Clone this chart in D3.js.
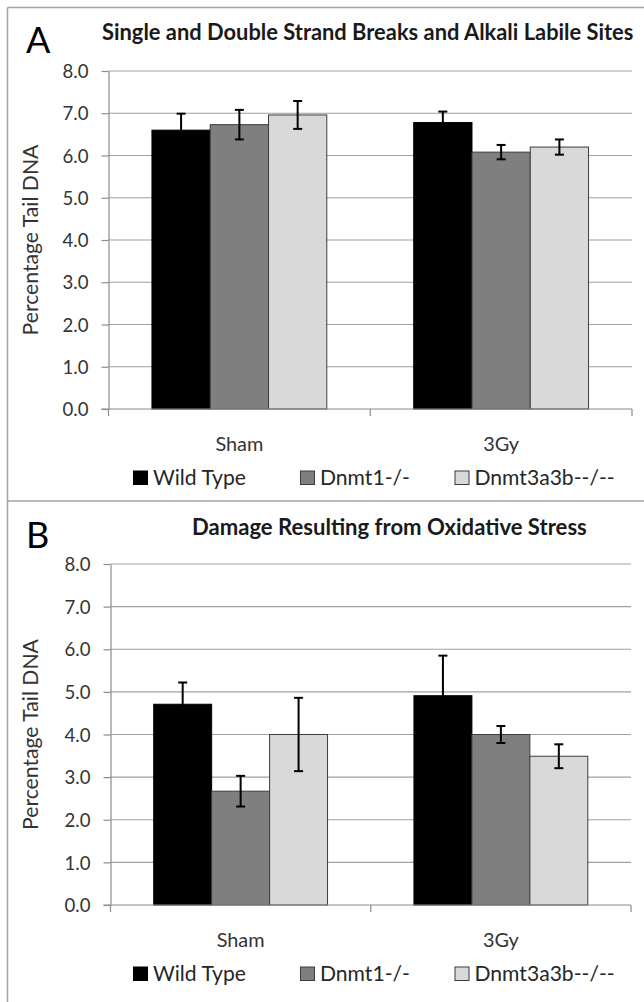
<!DOCTYPE html>
<html>
<head>
<meta charset="utf-8">
<script src="https://cdn.jsdelivr.net/npm/d3@7"></script>
<style>
  html, body { margin: 0; padding: 0; background: #fff; }
  svg { display: block; }
  text { font-family: Lato, "Open Sans", sans-serif; }
</style>
</head>
<body>
<div id="chart"></div>
<script>
// DATA ----------------------------------------------------------------------
const categories = ['Sham', '3Gy'];
const genotypes = ['Wild Type', 'Dnmt1-/-', 'Dnmt3a3b--/--'];
const yTickValues = [0, 1, 2, 3, 4, 5, 6, 7, 8];

// panel A: single and double strand breaks (mean, error) per category
const strandMeans = [[6.60, 6.73, 6.96], [6.78, 6.08, 6.20]];
const strandErrors = [[0.39, 0.35, 0.33], [0.26, 0.17, 0.18]];

// panel B: oxidative stress
const oxidMeans = [[4.71, 2.67, 4.00], [4.91, 4.00, 3.49]];
const oxidErrors = [[0.51, 0.36, 0.86], [0.94, 0.20, 0.28]];

const barColors = ['#000000', '#7f7f7f', '#d9d9d9'];

// CHART INIT ------------------------------------------------------------
const svg = d3.select('#chart')
    .append('svg')
    .attr('width', 644)
    .attr('height', 1002);

// panel frames
const frame = svg.append('g')
    .attr('fill', 'none')
    .attr('stroke', '#a3a3a3')
    .attr('stroke-width', 1.5);
frame.append('line').attr('x1', 7.5).attr('x2', 644).attr('y1', 7.5).attr('y2', 7.5);
frame.append('line').attr('x1', 7.5).attr('x2', 644).attr('y1', 501).attr('y2', 501);
frame.append('line').attr('x1', 7.5).attr('x2', 7.5).attr('y1', 7.5).attr('y2', 1002);

// scale a text's font-size so that it spans the wanted width
function fitWidth(sel, target) {
    const size = parseFloat(sel.attr('font-size'));
    const w = sel.node().getComputedTextLength();
    const s = size * target / w;
    sel.attr('font-size', s);
    return s;
}

function BarPanel(opts) {
    const g = svg.append('g');

    // scales
    const xScale = d3.scaleBand()
        .domain(categories)
        .range([opts.left, opts.right]);
    const bw = xScale.bandwidth();
    const xInner = d3.scaleBand()
        .domain(genotypes)
        .range([bw * 0.166, bw * 0.834]);
    const yScale = d3.scaleLinear()
        .domain([0, 8])
        .range([opts.bottom, opts.top]);

    // gridlines
    g.append('g')
        .selectAll('line')
        .data(yTickValues.filter(d => d > 0))
        .join('line')
        .attr('x1', opts.left)
        .attr('x2', opts.right)
        .attr('y1', d => yScale(d))
        .attr('y2', d => yScale(d))
        .attr('stroke', '#a0a0a0')
        .attr('stroke-width', 1.2);

    // y axis
    const yAxis = d3.axisLeft(yScale)
        .tickValues(yTickValues)
        .tickFormat(d3.format('.1f'))
        .tickSizeInner(7)
        .tickSizeOuter(0)
        .tickPadding(13);
    const ya = g.append('g')
        .attr('class', 'axis y-axis')
        .attr('transform', 'translate(' + opts.left + ',0)')
        .call(yAxis);
    ya.select('.domain').attr('stroke', '#8c8c8c').attr('stroke-width', 1.2);
    ya.selectAll('.tick line').attr('stroke', '#8c8c8c').attr('stroke-width', 1.2);
    ya.selectAll('.tick text')
        .attr('fill', '#333')
        .attr('font-family', 'Lato')
        .attr('font-size', 18)
        .attr('dy', '0.36em');
    const tickSize = fitWidth(ya.select('.tick:last-of-type text'), 26);
    ya.selectAll('.tick text').attr('font-size', tickSize);

    // bars
    const groups = g.append('g')
        .selectAll('g')
        .data(categories)
        .join('g')
        .attr('transform', c => 'translate(' + xScale(c) + ',0)');

    groups.selectAll('rect')
        .data((c, i) => genotypes.map((k, j) => ({k: k, j: j, v: opts.means[i][j]})))
        .join('rect')
        .attr('x', d => xInner(d.k))
        .attr('width', xInner.bandwidth())
        .attr('y', d => yScale(d.v))
        .attr('height', d => yScale(0) - yScale(d.v))
        .attr('fill', d => barColors[d.j])
        .attr('stroke', d => d.j === 0 ? '#000' : '#3c3c3c')
        .attr('stroke-width', 1);

    // error bars
    const errs = groups.selectAll('g.err')
        .data((c, i) => genotypes.map((k, j) => ({k: k, v: opts.means[i][j], e: opts.errors[i][j]})))
        .join('g')
        .attr('class', 'err')
        .attr('stroke', '#000')
        .attr('stroke-width', 2);
    const cx = d => xInner(d.k) + xInner.bandwidth() / 2;
    errs.append('line')
        .attr('x1', cx).attr('x2', cx)
        .attr('y1', d => yScale(d.v + d.e))
        .attr('y2', d => yScale(d.v - d.e));
    errs.append('line')
        .attr('x1', d => cx(d) - 4.5).attr('x2', d => cx(d) + 4.5)
        .attr('y1', d => yScale(d.v + d.e))
        .attr('y2', d => yScale(d.v + d.e));
    errs.append('line')
        .attr('x1', d => cx(d) - 4.5).attr('x2', d => cx(d) + 4.5)
        .attr('y1', d => yScale(d.v - d.e))
        .attr('y2', d => yScale(d.v - d.e));

    // x axis baseline and category ticks
    const xa = g.append('g')
        .attr('stroke', '#8c8c8c')
        .attr('stroke-width', 1.2);
    xa.append('line')
        .attr('x1', opts.left - 7).attr('x2', opts.right)
        .attr('y1', yScale(0)).attr('y2', yScale(0));
    xa.selectAll('line.tick')
        .data(categories.map(c => xScale(c)).concat([opts.right]))
        .join('line')
        .attr('class', 'tick')
        .attr('x1', d => d).attr('x2', d => d)
        .attr('y1', yScale(0)).attr('y2', yScale(0) + 7);

    const catLabels = g.append('g')
        .selectAll('text')
        .data(categories)
        .join('text')
        .attr('x', c => xScale(c) + bw / 2)
        .attr('y', yScale(0) + 41.5)
        .attr('text-anchor', 'middle')
        .attr('fill', '#333')
        .attr('font-size', 18)
        .text(c => c);
    const catSize = fitWidth(catLabels.filter((c, i) => i === 0), 48);
    catLabels.attr('font-size', catSize);

    // y axis title
    const yTitle = g.append('text')
        .attr('transform', 'translate(38,' + ((opts.top + opts.bottom) / 2) + ') rotate(-90)')
        .attr('text-anchor', 'middle')
        .attr('fill', '#333')
        .attr('font-size', 18)
        .text('Percentage Tail DNA');
    fitWidth(yTitle, 191);

    // chart title
    const title = g.append('text')
        .attr('x', opts.titleX)
        .attr('y', opts.titleY)
        .attr('fill', '#1a1a1a')
        .attr('font-weight', 'bold')
        .attr('font-size', 18)
        .text(opts.title);
    fitWidth(title, opts.titleWidth);

    // panel letter
    g.append('text')
        .attr('x', 26)
        .attr('y', opts.letterY)
        .attr('font-family', '"Liberation Sans", Arial, sans-serif')
        .attr('font-size', 36)
        .attr('fill', '#000')
        .text(opts.letter);

    // legend
    const legendY = yScale(0) + 75.5;
    const legendX = [133.5, 300.5, 455];
    const items = g.append('g')
        .selectAll('g')
        .data(genotypes)
        .join('g')
        .attr('transform', (d, i) => 'translate(' + legendX[i] + ',' + legendY + ')');
    items.append('rect')
        .attr('x', 0).attr('y', -13.5)
        .attr('width', 14).attr('height', 13.5)
        .attr('fill', (d, i) => barColors[i])
        .attr('stroke', (d, i) => i === 0 ? '#000' : '#3c3c3c')
        .attr('stroke-width', 1);
    const legTexts = items.append('text')
        .attr('x', 19.5)
        .attr('y', 0)
        .attr('fill', '#262626')
        .attr('font-size', 18)
        .text(d => d);
    const legSize = fitWidth(legTexts.filter((d, i) => i === 0), 93);
    legTexts.attr('font-size', legSize);
}

BarPanel({
    left: 108.5, right: 632, top: 71, bottom: 409,
    means: strandMeans, errors: strandErrors,
    title: 'Single and Double Strand Breaks and Alkali Labile Sites',
    titleX: 102, titleY: 40, titleWidth: 532,
    letter: 'A', letterY: 53
});

BarPanel({
    left: 110.5, right: 631, top: 564, bottom: 905,
    means: oxidMeans, errors: oxidErrors,
    title: 'Damage Resulting from Oxidative Stress',
    titleX: 192, titleY: 535, titleWidth: 395,
    letter: 'B', letterY: 548
});
</script>
</body>
</html>
